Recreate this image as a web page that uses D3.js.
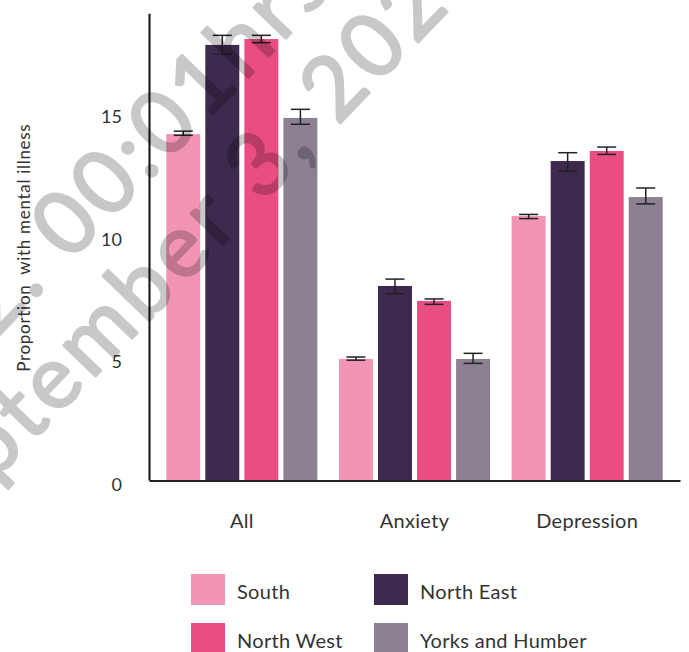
<!DOCTYPE html>
<html>
<head>
<meta charset="utf-8">
<script src="https://cdn.jsdelivr.net/npm/d3@7"></script>
<style>
  html, body { margin: 0; padding: 0; background: #fff; }
  svg { display: block; font-family: Lato, "Open Sans", sans-serif; }
</style>
</head>
<body>
<svg id="chart" width="689" height="652"></svg>
<script>
// ---- data ----
const categories = ["All", "Anxiety", "Depression"];
const seriesNames = ["South", "North East", "North West", "Yorks and Humber"];
const seriesColors = ["#f294b4", "#3e2a4e", "#e94d84", "#8c8093"];

const southValues     = [14.12, 4.94, 10.78];
const northEastValues = [17.76, 7.92, 13.02];
const northWestValues = [18.00, 7.31, 13.43];
const yorksValues     = [14.78, 4.94, 11.55];

const southLow      = [14.07, 4.89, 10.67];
const southHigh     = [14.24, 5.02, 10.84];
const northEastLow  = [17.38, 7.60, 12.61];
const northEastHigh = [18.15, 8.20, 13.36];
const northWestLow  = [17.85, 7.17, 13.29];
const northWestHigh = [18.15, 7.39, 13.59];
const yorksLow      = [14.52, 4.76, 11.27];
const yorksHigh     = [15.13, 5.17, 11.92];

const yTicks = [0, 5, 10, 15];
const yTitle = "Proportion\u00a0 with mental illness";
const watermarkLine1 = "2. 00:01hrs";
const watermarkLine2 = "September 3, 2021";

// ---- build table ----
const valueSets = [southValues, northEastValues, northWestValues, yorksValues];
const lowSets = [southLow, northEastLow, northWestLow, yorksLow];
const highSets = [southHigh, northEastHigh, northWestHigh, yorksHigh];
const rows = [];
categories.forEach((c, ci) => {
  seriesNames.forEach((s, si) => {
    rows.push({cat: c, series: s, value: valueSets[si][ci], low: lowSets[si][ci], high: highSets[si][ci], color: seriesColors[si]});
  });
});

const svg = d3.select("#chart");
const textColor = "#333";

const x0 = d3.scaleBand().domain(categories).range([149, 680]).paddingInner(0.125).paddingOuter(0.1);
const x1 = d3.scaleBand().domain(seriesNames).range([0, x0.bandwidth()]).paddingInner(0.13);
const y = d3.scaleLinear().domain([0, 19.05]).range([480, 13.3]);

// bars
svg.append("g").selectAll("rect").data(rows).join("rect")
  .attr("x", d => x0(d.cat) + x1(d.series))
  .attr("y", d => y(d.value))
  .attr("width", x1.bandwidth())
  .attr("height", d => y(0) - y(d.value))
  .attr("fill", d => d.color);

// error bars
const capW = 19;
const eb = svg.append("g").attr("stroke", "#222").attr("stroke-width", 1.5).attr("fill", "none");
rows.forEach(d => {
  const cx = x0(d.cat) + x1(d.series) + x1.bandwidth() / 2;
  eb.append("line").attr("x1", cx).attr("x2", cx).attr("y1", y(d.low)).attr("y2", y(d.high));
  eb.append("line").attr("x1", cx - capW / 2).attr("x2", cx + capW / 2).attr("y1", y(d.low)).attr("y2", y(d.low));
  eb.append("line").attr("x1", cx - capW / 2).attr("x2", cx + capW / 2).attr("y1", y(d.high)).attr("y2", y(d.high));
});

// y axis
const yAxis = svg.append("g").attr("transform", "translate(149,0)")
  .call(d3.axisLeft(y).tickValues(yTicks).tickSize(0).tickSizeOuter(0).tickPadding(27).tickFormat(d3.format("d")));
yAxis.select(".domain").attr("stroke", "#222").attr("stroke-width", 2.2);
yAxis.selectAll("text").attr("font-size", 18).attr("fill", textColor).attr("font-family", "Lato, sans-serif").attr("dy", "0.57em");

// x axis
const xAxis = svg.append("g").attr("transform", "translate(0,480.5)")
  .call(d3.axisBottom(x0).tickSize(0).tickSizeOuter(0).tickPadding(33));
xAxis.select(".domain").attr("stroke", "#222").attr("stroke-width", 2.2);
xAxis.selectAll("text").attr("font-size", 20).attr("letter-spacing", 0.3).attr("fill", textColor).attr("font-family", "Lato, sans-serif");

// y title
svg.append("text")
  .attr("transform", "translate(30,247.7) rotate(-90)")
  .attr("text-anchor", "middle")
  .attr("font-size", 17)
  .attr("letter-spacing", 0.7)
  .attr("fill", textColor)
  .text(yTitle);

// legend
const legendPos = [[191, 574], [374, 574], [191, 623], [374, 623]];
const legend = svg.append("g");
seriesNames.forEach((s, i) => {
  const [lx, ly] = legendPos[i];
  legend.append("rect").attr("x", lx).attr("y", ly).attr("width", 34).attr("height", 31).attr("fill", seriesColors[i]);
  legend.append("text").attr("x", lx + 46).attr("y", ly + 24.5).attr("font-size", 20).attr("letter-spacing", 0.3).attr("fill", textColor).text(s);
});

// watermark
const wm = svg.append("g").attr("opacity", 0.21).attr("fill", "#000").attr("stroke", "#000").attr("stroke-width", 2.5)
  .attr("stroke-linejoin", "round")
  .attr("font-size", 88).attr("font-weight", 400).attr("letter-spacing", 5).attr("pointer-events", "none");
function wmText(px, py, str, idx) {
  const g = wm.append("g").attr("transform", `translate(${px},${py}) rotate(-46)`);
  const t = g.append("text").attr("x", 0).attr("y", 0).text(str);
  let off = 0;
  try { off = t.node().getStartPositionOfChar(idx).x; } catch (e) { off = 0; }
  t.attr("x", -off);
}
wmText(244, 82, watermarkLine1, 8);
wmText(262, 204, watermarkLine2, 10);
</script>
</body>
</html>
